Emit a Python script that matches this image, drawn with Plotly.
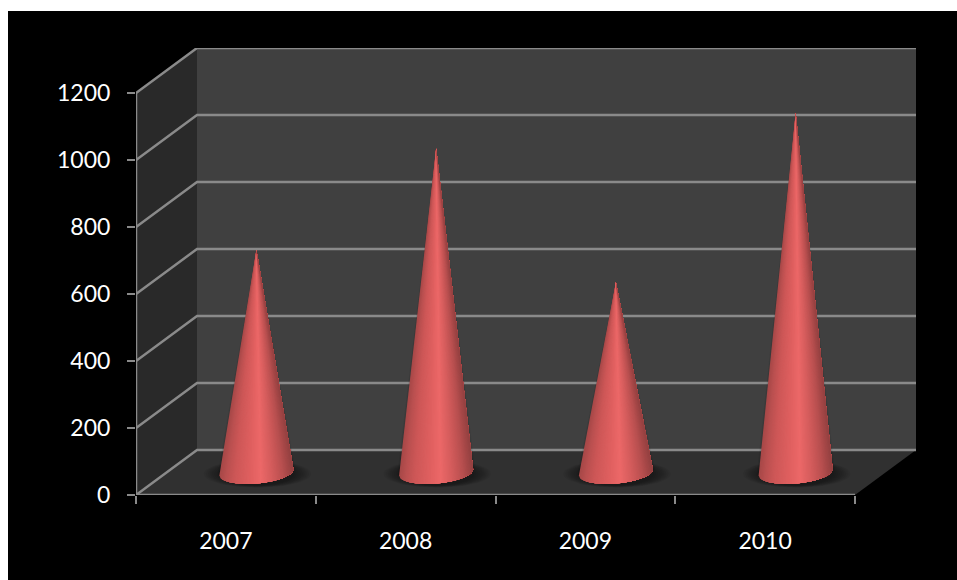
import numpy as np
import plotly.graph_objects as go

categories = ["2007", "2008", "2009", "2010"]
values = [665, 968, 568, 1073]
y_ticks = [0, 200, 400, 600, 800, 1000, 1200]

DEPTH_X = 61 / 179.75      # wall offset, category units
DEPTH_Y = 45 * 1200 / 402  # wall offset, value units
CONE_RX = 37 / 179.75
CONE_RY = 11 * 1200 / 402
CONE_TILT = 3 * 1200 / 402
N = len(categories)
Y_MAX = y_ticks[-1]
HALO_X = 1 / 179.75

GRID = "#8a8a8a"
SHADE_POS = [0, 0.08, 0.2, 0.4, 0.56, 0.72, 0.86, 1]
SHADE_R = [168, 186, 205, 222, 236, 212, 186, 150]
SHADE_G = [72, 80, 87, 95, 104, 92, 80, 65]
SHADE_B = [72, 80, 87, 95, 104, 92, 80, 65]

fig = go.Figure()


def poly(xs, ys, color):
    fig.add_trace(go.Scatter(x=xs, y=ys, mode="lines", fill="toself", fillcolor=color,
                             line=dict(width=0), hoverinfo="skip", showlegend=False))


def line(xs, ys, color=GRID, width=2.5):
    fig.add_trace(go.Scatter(x=xs, y=ys, mode="lines", line=dict(color=color, width=width),
                             hoverinfo="skip", showlegend=False, cliponaxis=False))


# walls and floor
poly([DEPTH_X, N + DEPTH_X, N + DEPTH_X, DEPTH_X], [DEPTH_Y, DEPTH_Y, Y_MAX + DEPTH_Y, Y_MAX + DEPTH_Y], "#404040")
poly([0, DEPTH_X, DEPTH_X, 0], [0, DEPTH_Y, Y_MAX + DEPTH_Y, Y_MAX], "#292929")
poly([0, N, N + DEPTH_X, DEPTH_X], [0, 0, DEPTH_Y, DEPTH_Y], "#303030")

# gridlines
for t in y_ticks:
    line([0, DEPTH_X, N + DEPTH_X], [t, t + DEPTH_Y, t + DEPTH_Y])

# axis lines
line([0, 0], [0, Y_MAX])
line([0, N], [0, 0])

theta = np.linspace(0, 2 * np.pi, 73)
arc = np.linspace(-1, 1, 61)
for i, v in enumerate(values):
    cx = i + 0.5 + DEPTH_X / 2
    cy = DEPTH_Y / 2
    base_x = cx + CONE_RX * arc
    base_y = cy - CONE_RY * np.sqrt(1 - arc ** 2) + CONE_TILT * arc
    # soft contact shadow
    for k in np.linspace(1.45, 1.0, 9):
        poly(cx + 0.006 + CONE_RX * k * np.cos(theta),
             cy - 4 + CONE_RY * (0.6 + 0.45 * k) * np.sin(theta), "rgba(0,0,0,0.055)")
    # faint dark halo along the cone's sides
    for grow in (2, 1):
        poly(np.r_[cx, base_x[0] - grow * HALO_X, base_x[-1] + grow * HALO_X, cx],
             np.r_[cy + v, base_y[0], base_y[-1], cy + v], "rgba(0,0,0,0.06)")
    # cone: wedges fanning from the apex, painted left to right
    for j in range(len(arc) - 1):
        f = j / (len(arc) - 2)
        r = np.interp(f, SHADE_POS, SHADE_R)
        g = np.interp(f, SHADE_POS, SHADE_G)
        b = np.interp(f, SHADE_POS, SHADE_B)
        poly(np.r_[cx, base_x[j:], cx], np.r_[cy + v, base_y[j:], cy + v],
             f"rgb({r:.0f},{g:.0f},{b:.0f})")

fig.update_layout(
    width=957, height=580, autosize=False,
    margin=dict(l=136, r=41, t=48, b=85, pad=0),
    paper_bgcolor="#000000", plot_bgcolor="rgba(0,0,0,0)",
    font=dict(family="Lato", size=23, color="#ffffff"),
    showlegend=False,
    shapes=[
        dict(type="rect", xref="paper", yref="paper", layer="above",
             x0=-136 / 780, x1=821 / 780, y0=1 + 37 / 447, y1=1 + 48 / 447,
             fillcolor="#ffffff", line=dict(width=0)),
        dict(type="rect", xref="paper", yref="paper", layer="above",
             x0=-136 / 780, x1=-128 / 780, y0=-85 / 447, y1=1 + 48 / 447,
             fillcolor="#ffffff", line=dict(width=0)),
    ],
    xaxis=dict(range=[0, N + DEPTH_X], showgrid=False, zeroline=False, showline=False,
               tickmode="array", tickvals=[i + 0.5 for i in range(N)], ticktext=categories,
               ticks="", ticklabelstandoff=30,
               minor=dict(tickmode="array", tickvals=list(range(N + 1)), ticks="outside",
                          ticklen=8, tickwidth=2, tickcolor=GRID, showgrid=False)),
    yaxis=dict(range=[0, Y_MAX + DEPTH_Y], showgrid=False, zeroline=False, showline=False,
               tickmode="array", tickvals=y_ticks, ticks="outside", ticklen=8, tickwidth=2,
               tickcolor=GRID, ticklabelstandoff=12),
)
fig.write_html("out.html", config={"displayModeBar": False},
               post_script="document.body.style.margin='0';document.body.style.overflow='hidden';")
